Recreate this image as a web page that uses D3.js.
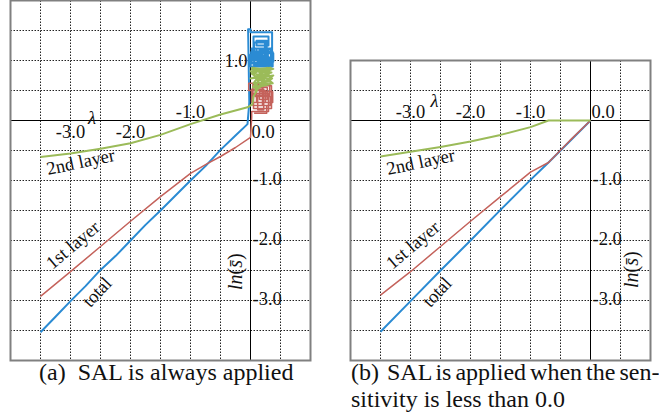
<!DOCTYPE html>
<html>
<head>
<meta charset="utf-8">
<script src="https://cdn.jsdelivr.net/npm/d3@7"></script>
<style>
  body { margin: 0; background: #fff; }
  text { font-family: "Liberation Serif", "Times New Roman", serif; fill: #111; }
  .tick-label { font-size: 18.5px; }
  .curve-label { font-size: 18.5px; }
  .caption { font-size: 24px; }
  .grid { stroke: #222; stroke-width: 1; stroke-dasharray: 1.5,1.5; }
  .frame { fill: none; stroke: #808080; stroke-width: 2; }
  .axis-line { stroke: #000; stroke-width: 1; }
</style>
</head>
<body>
<svg id="chart" width="659" height="415"></svg>
<script>
/*
    two panels: ln(mean sensitivity) against lambda, for every layer
*/

// grid steps (both axes share them)
var gridSteps = [-3.5, -3, -2.5, -2, -1.5, -1, -0.5, 0.5, 1, 1.5];

// tick labels
var xTickLabels = [-3, -2, -1, 0];
var yTickLabels = [1, -1, -2, -3];

var curveNames = ['total', '1st layer', '2nd layer'];
var colors = ['#2b8bd3', '#c4625b', '#9bbb59'];

// (a) SAL is always applied
var totalA = [[-3.5,-3.53],[-3.25,-3.27],[-3.0,-3.01],[-2.75,-2.76],[-2.5,-2.49],[-2.25,-2.26],
  [-2.0,-2.0],[-1.75,-1.74],[-1.5,-1.5],[-1.25,-1.25],[-1.0,-1.0],[-0.75,-0.76],[-0.5,-0.49],
  [-0.25,-0.25],[-0.05,-0.06],[-0.02,0.3],[-0.03,0.9],[-0.04,1.52],[0.0,1.52],[0.0,1.47],
  [0.36,1.47],[0.36,1.0],[0.05,1.0],[0.05,1.4],[0.3,1.4],[0.3,1.25],[0.1,1.25],[0.1,1.33],
  [0.27,1.33],[0.27,0.95],[0.02,0.95],[0.02,1.2],[0.34,1.2],[0.34,1.05],[0.08,1.05],[0.08,1.15],
  [0.25,1.15],[0.25,0.9],[0.0,0.9],[0.0,1.1],[0.2,1.1],[0.2,0.98],[0.38,0.98],[0.38,1.12],
  [0.12,1.12],[0.12,0.93],[0.32,0.93],[0.32,1.02],[0.04,1.02],[0.04,1.08],[0.22,1.08],[0.22,0.9],
  [0.15,0.9],[0.15,1.18],[0.35,1.18],[0.35,0.92],[0.06,0.92],[0.06,1.3],[0.24,1.3],[0.24,1.0],
  [0.1,1.0],[0.1,1.2],[0.29,1.2],[0.29,0.96],[0.01,0.96],[0.01,1.14],[0.37,1.14],[0.37,0.9],
  [0.18,0.9],[0.18,1.06],[0.31,1.06]];
var firstA = [[-3.5,-2.93],[-3.0,-2.52],[-2.5,-2.1],[-2.0,-1.68],[-1.5,-1.27],[-1.0,-0.88],
  [-0.72,-0.72],[-0.5,-0.6],[-0.25,-0.45],[0.0,-0.28],[0.02,0.05],[0.02,0.15],[0.3,0.15],
  [0.3,0.45],[0.05,0.45],[0.05,0.2],[0.35,0.2],[0.35,0.58],[0.1,0.58],[0.1,0.3],[0.25,0.3],
  [0.25,0.5],[-0.03,0.5],[-0.03,0.62],[0.2,0.62],[0.2,0.25],[0.33,0.25],[0.33,0.4],[0.08,0.4],
  [0.08,0.55],[0.28,0.55],[0.28,0.35],[0.15,0.35],[0.15,0.48],[0.37,0.48],[0.37,0.3],[0.02,0.3],
  [0.02,0.52],[0.22,0.52],[0.22,0.18],[0.12,0.18],[0.12,0.42],[0.32,0.42],[0.32,0.6],[0.04,0.6],
  [0.04,0.25],[0.27,0.25],[0.27,0.12],[0.06,0.12]];
var secondA = [[-3.5,-0.61],[-3.0,-0.55],[-2.5,-0.47],[-2.0,-0.38],[-1.5,-0.24],[-1.0,-0.06],
  [-0.5,0.1],[-0.05,0.22],[0.03,0.27],[0.05,0.4],[0.3,0.85],[0.02,0.86],[0.35,0.8],[0.0,0.7],
  [0.38,0.75],[0.1,0.55],[0.3,0.6],[0.02,0.78],[0.28,0.88],[0.33,0.65],[0.05,0.62],[0.2,0.83],
  [0.36,0.7],[0.08,0.5],[0.15,0.78],[0.38,0.86],[0.0,0.82],[0.25,0.7],[0.12,0.66],[0.3,0.78],
  [0.06,0.72],[0.34,0.88],[0.1,0.86],[0.37,0.62],[0.04,0.55],[0.22,0.76],[0.03,0.88],[0.32,0.84],
  [0.18,0.6]];

// (b) SAL is applied when the sensitivity is less than 0.0
var totalB = [[-3.5,-3.52],[-3.0,-3.01],[-2.5,-2.5],[-2.0,-2.0],[-1.5,-1.49],[-1.0,-0.99],
  [-0.7,-0.7],[-0.35,-0.35],[0.0,0.0]];
var firstB = [[-3.5,-2.91],[-3.0,-2.52],[-2.5,-2.1],[-2.0,-1.68],[-1.5,-1.27],[-1.0,-0.86],
  [-0.7,-0.7],[-0.35,-0.34],[0.0,0.0]];
var secondB = [[-3.5,-0.6],[-3.0,-0.52],[-2.5,-0.44],[-2.0,-0.35],[-1.5,-0.24],[-1.0,-0.11],
  [-0.7,0.0],[-0.35,0.0],[0.0,0.0]];

var svg = d3.select('#chart');
var fmt = function(d) { return d3.format('.1f')(d).replace('\u2212', '-'); };

var panel = function(cfg) {
    var x = d3.scaleLinear().domain([-4, 1]).range([cfg.left, cfg.left + 300]);
    var y = d3.scaleLinear().domain([2, -4]).range([0.5, 360.5]);
    var g = svg.append('g');

    g.append('clipPath').attr('id', cfg.id)
      .append('rect')
        .attr('x', x(-4)).attr('y', y(cfg.top))
        .attr('width', x(1) - x(-4)).attr('height', y(-4) - y(cfg.top));

    //grid
    g.selectAll('.vg').data(gridSteps.filter(function(d) { return d < 1; }))
      .enter().append('line')
        .attr('class', 'grid')
        .attr('x1', function(d) { return x(d); }).attr('x2', function(d) { return x(d); })
        .attr('y1', y(cfg.top)).attr('y2', y(-4));
    g.selectAll('.hg').data(gridSteps.filter(function(d) { return d < cfg.top; }))
      .enter().append('line')
        .attr('class', 'grid')
        .attr('y1', function(d) { return y(d); }).attr('y2', function(d) { return y(d); })
        .attr('x1', x(-4)).attr('x2', x(1));

    //axes through the origin
    g.append('line').attr('class', 'axis-line')
      .attr('x1', x(-4)).attr('x2', x(1)).attr('y1', y(0)).attr('y2', y(0));
    g.append('line').attr('class', 'axis-line')
      .attr('x1', x(0)).attr('x2', x(0)).attr('y1', y(cfg.top)).attr('y2', y(-4));

    //curves
    var line = d3.line()
      .x(function(d) { return x(d[0]); })
      .y(function(d) { return y(d[1]); });
    var lines = g.append('g').attr('clip-path', 'url(#' + cfg.id + ')');
    cfg.series.forEach(function(s, i) {
        lines.append('path')
          .attr('d', line(s))
          .attr('fill', 'none')
          .attr('stroke', colors[i])
          .attr('stroke-width', i === 1 ? 1.5 : 2)
          .attr('stroke-linejoin', 'round');
    });

    //frame
    g.append('rect').attr('class', 'frame')
      .attr('x', x(-4)).attr('y', y(cfg.top))
      .attr('width', x(1) - x(-4)).attr('height', y(-4) - y(cfg.top));

    //x tick labels
    g.selectAll('.xl').data(xTickLabels)
      .enter().append('text')
        .attr('class', 'tick-label')
        .attr('text-anchor', function(d) { return d === 0 ? 'start' : 'middle'; })
        .attr('x', function(d) { return d === 0 ? x(d) + 1 : x(d); })
        .attr('y', function(d) { return y(0) + cfg.xLabelDy(d); })
        .text(function(d) { return fmt(d); });

    //y tick labels
    g.selectAll('.yl').data(yTickLabels.filter(function(d) { return d < cfg.top; }))
      .enter().append('text')
        .attr('class', 'tick-label')
        .attr('text-anchor', function(d) { return d > 0 ? 'end' : 'start'; })
        .attr('x', function(d) { return d > 0 ? x(0) - 3 : x(0) + 2; })
        .attr('y', function(d) { return y(d) + (d > 0 ? 6 : 4.5); })
        .text(function(d) { return fmt(d); });

    //lambda
    g.append('text')
      .attr('class', 'tick-label')
      .attr('text-anchor', 'middle')
      .attr('font-style', 'italic')
      .attr('x', x(cfg.lambda[0])).attr('y', y(cfg.lambda[1]))
      .text('\u03bb');

    //ln(s)
    var ln = g.append('text')
      .attr('font-size', 20)
      .attr('transform', 'translate(' + cfg.lnPos[0] + ',' + cfg.lnPos[1] + ') rotate(-90)');
    ln.append('tspan').attr('font-style', 'italic').text('ln');
    ln.append('tspan').text('(');
    ln.append('tspan').attr('font-style', 'italic').text('s\u0304');
    ln.append('tspan').text(')');

    //curve labels
    var curveLabels = [
        {name: curveNames[2], at: [-3.375, -0.91], angle: -12},
        {name: curveNames[1], at: [-3.3, -2.49], angle: -40},
        {name: curveNames[0], at: [-2.67, -3.13], angle: -47}
    ];
    g.selectAll('.cl').data(curveLabels)
      .enter().append('text')
        .attr('class', 'curve-label')
        .attr('transform', function(d) {
            return 'translate(' + x(d.at[0]) + ',' + y(d.at[1]) + ') rotate(' + d.angle + ')';
        })
        .text(function(d) { return d.name; });

    //caption
    var cap = g.append('text').attr('class', 'caption').attr('x', cfg.capX);
    cfg.caption.forEach(function(t, i) {
        cap.append('tspan').attr('x', cfg.capX).attr('y', 380 + i * 27)
          .attr('word-spacing', cfg.wordSpacing[i])
          .text(t);
    });
};

panel({
    id: 'clipA', left: 10.5, top: 2,
    series: [totalA, firstA, secondA],
    xLabelDy: function(d) { return d === -1 ? -2.5 : 17; },
    lambda: [-2.64, -0.05],
    lnPos: [242, 290],
    caption: ['(a)\u00a0 SAL is always applied'],
    wordSpacing: [0],
    capX: 39
});

panel({
    id: 'clipB', left: 350.5, top: 1,
    series: [totalB, firstB, secondB],
    xLabelDy: function() { return -3; },
    lambda: [-2.6, 0.23],
    lnPos: [638, 288],
    caption: ['(b)\u00a0 SAL is applied when the sen-', 'sitivity is less than 0.0'],
    wordSpacing: [-2, 0],
    capX: 351
});
</script>
</body>
</html>
